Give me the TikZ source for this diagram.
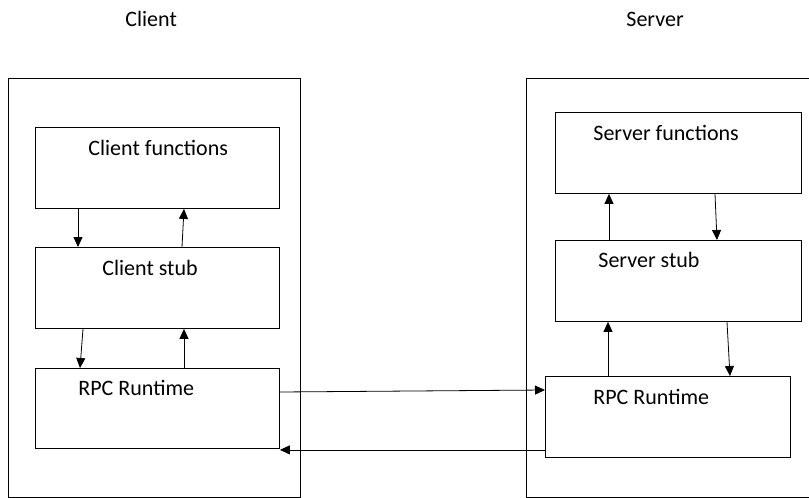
\documentclass[tikz,border=0pt]{standalone}
\usepackage{fontspec}
\setmainfont{Carlito}
\usepackage{tikz}
\usetikzlibrary{arrows.meta, positioning, calc}

\begin{document}
\begin{tikzpicture}[
    x=1pt, y=-1pt,
    frame/.style={draw, line width=0.9pt, anchor=north west, inner sep=0pt},
    box/.style={draw, line width=0.9pt, anchor=north west, inner sep=0pt, minimum height=81pt},
    lbl/.style={font=\fontsize{22}{26}\selectfont, anchor=base west, inner sep=0pt},
    >={Triangle[length=10pt, width=9pt]}, line width=0.8pt
  ]
  \path[use as bounding box, clip] (0,0) rectangle (809,498);

  \node[frame, minimum width=292pt, minimum height=419pt] (client) at (8,78) {};
  \node[frame, minimum width=310pt, minimum height=419pt] (server) at (526,78) {};

  \node[lbl] (clienttitle) at (125,26) {Client};
  \node[lbl] (servertitle) at (626,26) {Server};

  \node[box, minimum width=244pt] (cfun) at (35,127) {};
  \node[box, minimum width=244pt] (cstub) at (35,247) {};
  \node[box, minimum width=244pt, minimum height=80pt] (crpc) at (35,368) {};
  \node[lbl] (cfuntext) at (88,155) {Client functions};
  \node[lbl] (cstubtext) at (102,275) {Client stub};
  \node[lbl] (crpctext) at (78,395) {RPC Runtime};

  \node[box, minimum width=246pt] (sfun) at (555,112) {};
  \node[box, minimum width=246pt] (sstub) at (555,240) {};
  \node[box, minimum width=245pt] (srpc) at (545,376) {};
  \node[lbl] (sfuntext) at (593,140) {Server functions};
  \node[lbl] (sstubtext) at (598,267) {Server stub};
  \node[lbl] (srpctext) at (593,404) {RPC Runtime};

  \draw[->] ([xshift=43pt]cfun.south west) -- ([xshift=43pt]cstub.north west);
  \draw[->] ([xshift=147pt]cstub.north west) -- ([xshift=149pt]cfun.south west);
  \draw[->] ([xshift=48pt]cstub.south west) -- ([xshift=45pt]crpc.north west);
  \draw[->] ([xshift=149pt]crpc.north west) -- ([xshift=149pt]cstub.south west);

  \draw[->] ([xshift=54pt]sstub.north west) -- ([xshift=54pt]sfun.south west);
  \draw[->] ([xshift=160pt]sfun.south west) -- ([xshift=162pt]sstub.north west);
  \draw[->] ([xshift=63pt]srpc.north west) -- ([xshift=53pt]sstub.south west);
  \draw[->] ([xshift=172pt]sstub.south west) -- ([xshift=185pt]srpc.north west);

  \draw[->] ([yshift=-24pt]crpc.north east) -- ([yshift=-14pt]srpc.north west);
  \draw[->] ([yshift=8pt]srpc.south west) -- ([yshift=-1pt]crpc.south east);
\end{tikzpicture}
\end{document}
